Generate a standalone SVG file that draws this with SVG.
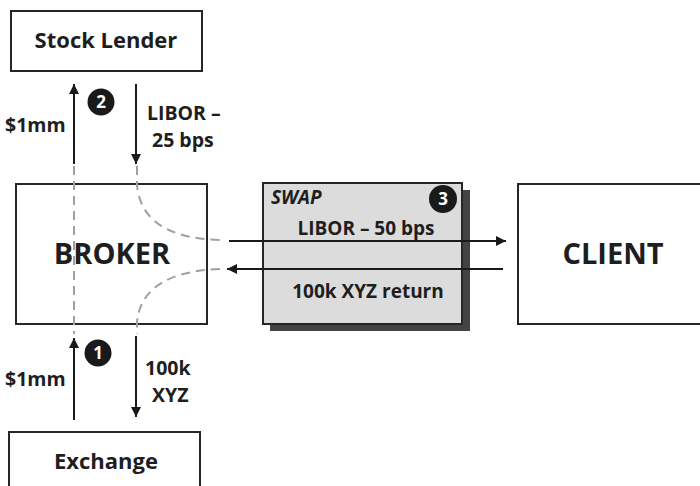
<svg xmlns="http://www.w3.org/2000/svg" width="700" height="486" viewBox="0 0 700 486">
<defs>
<marker id="ah" viewBox="0 0 10 10" refX="10" refY="5" markerWidth="10" markerHeight="10" markerUnits="userSpaceOnUse" orient="auto">
<path d="M0,0 L10,5 L0,10 z" fill="#1a1a1a"/>
</marker>
<style>
.box{fill:#fff;stroke:#262626;stroke-width:2}
.t{font-family:"Open Sans","DejaVu Sans",sans-serif;font-weight:bold;fill:#1e1e1e}
.arr{stroke:#1a1a1a;stroke-width:2;fill:none;marker-end:url(#ah)}
.dash{stroke:#a0a0a0;stroke-width:2;fill:none;stroke-dasharray:9,6}
.num{fill:#1a1a1a}
.nt{font-family:"Open Sans","DejaVu Sans",sans-serif;font-weight:bold;fill:#fff;font-size:17px;text-anchor:middle}
</style>
</defs>
<rect width="700" height="486" fill="#fff"/>
<g id="stock-lender">
<rect class="box" x="11" y="11" width="191" height="60"/>
<text class="t" x="106" y="48" font-size="22" text-anchor="middle">Stock Lender</text>
</g>
<g id="broker">
<rect class="box" x="16" y="184" width="191" height="140"/>
<text class="t" x="112" y="264" font-size="29" text-anchor="middle">BROKER</text>
</g>
<g id="swap">
<rect x="270" y="190" width="200" height="141" fill="#444"/>
<rect x="263" y="183" width="199" height="141" fill="#dcdcdc" stroke="#262626" stroke-width="2"/>
<text class="t" x="271" y="204" font-size="19" font-style="italic">SWAP</text>
<circle class="num" cx="443" cy="199" r="14"/>
<text class="nt" x="443" y="205">3</text>
<text class="t" x="366" y="235" font-size="19" text-anchor="middle">LIBOR – 50 bps</text>
<text class="t" x="368" y="298" font-size="19" text-anchor="middle">100k XYZ return</text>
</g>
<g id="client">
<rect class="box" x="518" y="184" width="190" height="140"/>
<text class="t" x="613" y="264" font-size="29" text-anchor="middle">CLIENT</text>
</g>
<g id="exchange">
<rect class="box" x="9" y="432" width="191" height="70"/>
<text class="t" x="106" y="469" font-size="22" text-anchor="middle">Exchange</text>
</g>
<g id="connectors">
<path class="dash" d="M74,166 L74,334"/>
<path class="dash" d="M137,166 L137,185 Q142,238 220,240"/>
<path class="dash" d="M220,269 Q142,272 137,322 L137,334"/>
<path class="arr" d="M74,164 L74,84"/>
<path class="arr" d="M136,84 L136,164"/>
<path class="arr" d="M74,420 L74,338"/>
<path class="arr" d="M136,336 L136,417"/>
<path class="arr" d="M229,241 L506,241"/>
<path class="arr" d="M503,269 L227,269"/>
</g>
<g id="labels">
<text class="t" x="5" y="132" font-size="19.5">$1mm</text>
<text class="t" x="147" y="120" font-size="19.5">LIBOR –</text>
<text class="t" x="152" y="147" font-size="19.5">25 bps</text>
<text class="t" x="5" y="386" font-size="19.5">$1mm</text>
<text class="t" x="145" y="375" font-size="19.5">100k</text>
<text class="t" x="152" y="402" font-size="19.5">XYZ</text>
<circle class="num" cx="101" cy="102" r="13.5"/>
<text class="nt" x="101" y="108">2</text>
<circle class="num" cx="98" cy="353" r="13.5"/>
<text class="nt" x="98" y="359">1</text>
</g>
</svg>
